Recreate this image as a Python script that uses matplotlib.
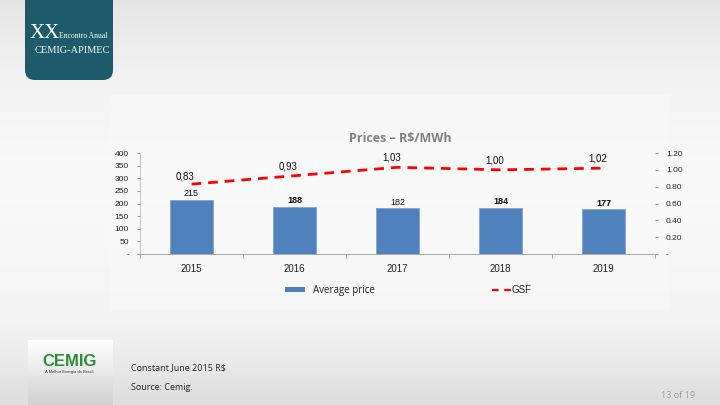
import numpy as np
import matplotlib.pyplot as plt
from matplotlib.patches import FancyBboxPatch, Rectangle
from matplotlib.lines import Line2D

# chart data
years = ['2015', '2016', '2017', '2018', '2019']
avg_price = [215, 188, 182, 184, 177]
gsf = [0.83, 0.93, 1.03, 1.00, 1.02]
gsf_labels = ['0,83', '0,93', '1,03', '1,00', '1,02']
bold_price = [False, True, False, True, True]
left_ticks = [0, 50, 100, 150, 200, 250, 300, 350, 400]
left_tick_labels = ['-', '50', '100', '150', '200', '250', '300', '350', '400']
right_ticks = [0, 0.2, 0.4, 0.6, 0.8, 1.0, 1.2]
right_tick_labels = ['-', '0.20', '0.40', '0.60', '0.80', '1.00', '1.20']

plt.rcParams['font.family'] = ['Liberation Sans', 'DejaVu Sans']

W, H = 720, 405
fig = plt.figure(figsize=(7.2, 4.05), dpi=100)

# slide background gradient
bg = fig.add_axes([0, 0, 1, 1])
bg.set_xlim(0, W)
bg.set_ylim(H, 0)
bg.axis('off')
yy = np.linspace(0, 1, 200)
shade = np.interp(yy, [0, 0.22, 0.45, 0.8, 1.0], [0.90, 0.955, 0.98, 0.955, 0.87])
grad = np.tile(shade[:, None], (1, 2))
bg.imshow(np.dstack([grad, grad, grad * 1.005]).clip(0, 1), extent=[0, W, H, 0],
          aspect='auto', zorder=0)
# slightly lighter panel behind chart
bg.add_patch(Rectangle((110, 95), 560, 215, color='#f9f9f9', alpha=0.5, zorder=1, lw=0))

# top-left event box
bg.add_patch(FancyBboxPatch((25, -20), 88, 100, boxstyle='round,pad=0,rounding_size=10',
                            facecolor='#1d5a6a', edgecolor='none', zorder=2))
bg.text(30, 38, 'XX', color='white', fontsize=15, family='Liberation Serif', zorder=3,
        va='baseline')
bg.text(59, 38, 'Encontro Anual', color='white', fontsize=5.5, family='Liberation Serif',
        zorder=3, va='baseline')
bg.text(35, 53, 'CEMIG-APIMEC', color='white', fontsize=7.5, family='Liberation Serif',
        zorder=3, va='baseline')

# bottom-left logo box
logo = np.linspace(1.0, 0.82, 50)
lg = np.tile(logo[:, None], (1, 2))
bg.imshow(np.dstack([lg, lg, lg]), extent=[28, 113, 405, 340], aspect='auto', zorder=2)
bg.text(70, 361, 'CEMIG', color='#2e8b3a', fontsize=12, fontweight='bold', ha='center',
        va='center', zorder=3)
bg.text(70, 372, 'A Melhor Energia do Brasil.', color='#333333', fontsize=3, ha='center',
        va='center', zorder=3)

# footnotes
bg.text(131, 368, 'Constant June 2015 R$', fontsize=6.5, family='Open Sans',
        color='#222222', va='center', zorder=3)
bg.text(131, 387, 'Source: Cemig.', fontsize=6.5, family='Open Sans',
        color='#222222', va='center', zorder=3)
bg.text(695, 395, '13 of 19', fontsize=6.5, family='Open Sans', color='#999999',
        ha='right', va='center', zorder=3)

# title
bg.text(400, 139, 'Prices – R$/MWh', fontsize=9, fontweight='bold', family='Open Sans',
        color='#7f7f7f', ha='center', va='center', zorder=3)

# main chart
ax = fig.add_axes([140 / W, 1 - 254 / H, 515 / W, 101 / H])
ax.patch.set_alpha(0)
x = np.arange(len(years))
ax.bar(x, avg_price, width=0.41, color='#4f81bd', edgecolor='#7fa3d3', linewidth=0.6,
       zorder=2)
ax.set_xlim(-0.5, len(years) - 0.5)
ax.set_ylim(0, 400)
ax.set_yticks(left_ticks)
ax.set_yticklabels(left_tick_labels)
ax.tick_params(axis='y', labelsize=6, length=2, color='#999999', pad=6, labelcolor='#222222')
ax.set_xticks(x)
ax.set_xticklabels(years)
ax.tick_params(axis='x', labelsize=7, length=0, pad=7, labelcolor='#222222')
ax.set_xticks(np.arange(-0.5, len(years)), minor=True)
ax.tick_params(axis='x', which='minor', length=3, color='#999999')
for s in ['top', 'right']:
    ax.spines[s].set_visible(False)
ax.spines['left'].set_color('#bbbbbb')
ax.spines['bottom'].set_color('#999999')
ax.spines['left'].set_linewidth(0.6)
ax.spines['bottom'].set_linewidth(0.6)

for xi, v, b in zip(x, avg_price, bold_price):
    ax.text(xi, v + 6, str(v), ha='center', va='bottom', fontsize=6.5,
            fontweight='bold' if b else 'normal', color='#111111', zorder=3)

ax2 = ax.twinx()
ax2.plot(x, gsf, color='#ff0000', lw=2, dashes=(3.5, 2.5), zorder=3)
ax2.set_ylim(0, 1.2)
ax2.set_yticks(right_ticks)
ax2.set_yticklabels(right_tick_labels)
ax2.tick_params(axis='y', labelsize=6, length=2, color='#999999', pad=6, labelcolor='#222222')
for s in ax2.spines.values():
    s.set_visible(False)
for xi, v, lab in zip(x, gsf, gsf_labels):
    off = 0.035 if xi == 0 else 0.055
    ax2.text(xi - 0.06, v + off, lab, ha='center', va='bottom', fontsize=7,
             color='#111111', zorder=3)

# legend
bg.add_patch(Rectangle((285, 287), 20, 5, color='#4f81bd', zorder=3, lw=0))
bg.text(313, 290, 'Average price', fontsize=7, family='Open Sans', color='#222222',
        va='center', zorder=3)
bg.add_line(Line2D([492, 511], [290, 290], color='#ff0000', lw=1.6, dashes=(3, 2.5),
                   zorder=3))
bg.text(512, 290, 'GSF', fontsize=7, color='#222222', va='center', zorder=3)

fig.savefig('out.png', dpi=100)
